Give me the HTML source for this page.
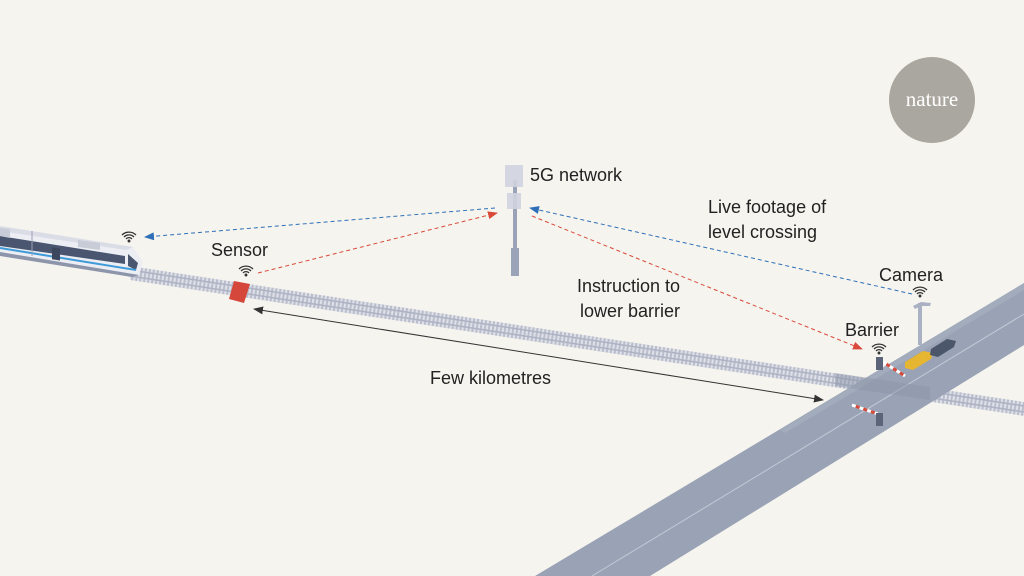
<!DOCTYPE html>
<html><head><meta charset="utf-8"><style>
html,body{margin:0;padding:0;background:#f5f4ee;}
svg{display:block}
text{font-family:"Liberation Sans",sans-serif;fill:#222;font-size:18px}
</style></head><body>
<svg width="1024" height="576" viewBox="0 0 1024 576">
<defs>
<pattern id="ties" width="4" height="12" patternUnits="userSpaceOnUse" patternTransform="rotate(8.7)">
<rect width="4" height="12" fill="#dfe1e8"/><rect width="2" height="12" fill="#b9bdcc"/>
</pattern>
<marker id="ab" markerWidth="10" markerHeight="8" refX="9" refY="4" orient="auto"><path d="M0,0 L10,4 L0,8 z" fill="#2f6fb8"/></marker>
<marker id="ar" markerWidth="10" markerHeight="8" refX="9" refY="4" orient="auto"><path d="M0,0 L10,4 L0,8 z" fill="#d94a3a"/></marker>
<marker id="ak" markerWidth="10" markerHeight="8" refX="9" refY="4" orient="auto"><path d="M0,0 L10,4 L0,8 z" fill="#333"/></marker>
<marker id="aks" markerWidth="10" markerHeight="8" refX="1" refY="4" orient="auto"><path d="M10,0 L0,4 L10,8 z" fill="#333"/></marker>
</defs>
<rect width="1024" height="576" fill="#f5f4ee"/>
<circle cx="932" cy="100" r="43" fill="#a9a79f"/>
<text x="932" y="106" text-anchor="middle" style="font-family:'Liberation Serif',serif;font-size:21px;fill:#fff">nature</text>
<!-- track -->
<polygon points="130,266 1024,402 1024,416 130,280" fill="url(#ties)"/>
<line x1="130" y1="270" x2="1024" y2="406" stroke="#aeb3c4" stroke-width="1.5"/>
<line x1="130" y1="276" x2="1024" y2="412" stroke="#aeb3c4" stroke-width="1.5"/>
<!-- road -->
<polygon points="535,576 1024,283 1024,345 650,576" fill="#9aa3b5"/>
<line x1="592" y1="576" x2="1024" y2="314" stroke="#c3c9d6" stroke-width="1"/>
<polygon points="780,430 1024,283 1024,290 785,433" fill="#aab2c2" opacity="0.6"/>
<polygon points="835,373 930,387 930,400 835,386" fill="#8c95a8" opacity="0.5"/>
<!-- crossing barriers -->
<line x1="852" y1="405" x2="878" y2="414" stroke="#fff" stroke-width="3" stroke-dasharray="4,4"/>
<line x1="852" y1="405" x2="878" y2="414" stroke="#d94a3a" stroke-width="3" stroke-dasharray="4,4" stroke-dashoffset="4"/>
<rect x="876" y="413" width="7" height="13" fill="#5b6478"/>
<line x1="883" y1="362" x2="905" y2="376" stroke="#fff" stroke-width="3" stroke-dasharray="4,4"/>
<line x1="883" y1="362" x2="905" y2="376" stroke="#d94a3a" stroke-width="3" stroke-dasharray="4,4" stroke-dashoffset="4"/>
<rect x="876" y="357" width="7" height="13" fill="#5b6478"/>
<!-- cars -->
<path d="M905,362 l18,-11 l10,2 l-2,6 l-18,11 l-8,-2z" fill="#e6b532"/>
<path d="M931,349 l16,-10 l9,2 l-2,6 l-16,10 l-8,-2z" fill="#4c566b"/>
<!-- camera pole -->
<rect x="918" y="303" width="4" height="42" fill="#aab1c2"/>
<path d="M913,306 l8,-4 l10,1 l-1,3 l-9,0 l-6,3z" fill="#aab1c2"/>
<!-- train -->
<polygon points="0,226 133,247 143,262 139,275 0,252" fill="#eceef4"/>
<polygon points="0,226 133,247 126,250 0,231" fill="#dadde6"/>
<polygon points="0,236 125,256 125,264 0,246" fill="#4a5670"/>
<polygon points="128,254 138,263 136,270 128,266" fill="#4a5670"/>
<line x1="0" y1="248" x2="136" y2="270" stroke="#3f9ad8" stroke-width="2"/>
<polygon points="0,252 139,275 132,277 0,256" fill="#8d95aa"/>
<polygon points="0,228 10,229 10,238 0,236" fill="#c8ccd6"/>
<polygon points="78,240 100,243 100,250 78,247" fill="#c8ccd6"/>
<line x1="32" y1="231" x2="32" y2="256" stroke="#9aa0b2"/>
<rect x="52" y="239" width="8" height="12" fill="#3c465c" transform="skewY(9)"/>
<!-- sensor -->
<polygon points="234,281 250,284 244,303 229,299" fill="#d4473a"/>
<!-- tower -->
<rect x="513" y="180" width="4" height="70" fill="#9ba3b8"/>
<rect x="511" y="248" width="8" height="28" fill="#9ba3b8"/>
<rect x="505" y="165" width="18" height="22" fill="#d0d4df" opacity="0.9"/>
<rect x="507" y="193" width="14" height="16" fill="#d0d4df" opacity="0.9"/>
<!-- wifi icons -->
<g fill="none" stroke="#333" stroke-width="1.3">
<g transform="translate(129,240)"><path d="M-5,-3 a7,7 0 0 1 10,0 M-3,-1 a4,4 0 0 1 6,0"/><circle cx="0" cy="1" r="0.8" fill="#333"/><path d="M-7,-5 a10,10 0 0 1 14,0"/></g>
<g transform="translate(246,274)"><path d="M-5,-3 a7,7 0 0 1 10,0 M-3,-1 a4,4 0 0 1 6,0"/><circle cx="0" cy="1" r="0.8" fill="#333"/><path d="M-7,-5 a10,10 0 0 1 14,0"/></g>
<g transform="translate(920,295)"><path d="M-5,-3 a7,7 0 0 1 10,0 M-3,-1 a4,4 0 0 1 6,0"/><circle cx="0" cy="1" r="0.8" fill="#333"/><path d="M-7,-5 a10,10 0 0 1 14,0"/></g>
<g transform="translate(879,352)"><path d="M-5,-3 a7,7 0 0 1 10,0 M-3,-1 a4,4 0 0 1 6,0"/><circle cx="0" cy="1" r="0.8" fill="#333"/><path d="M-7,-5 a10,10 0 0 1 14,0"/></g>
</g>
<!-- arrows -->
<line x1="495" y1="208" x2="145" y2="237" stroke="#2f6fb8" stroke-width="1" stroke-dasharray="4,3" marker-end="url(#ab)"/>
<line x1="258" y1="273" x2="497" y2="213" stroke="#d94a3a" stroke-width="1" stroke-dasharray="4,3" marker-end="url(#ar)"/>
<line x1="912" y1="294" x2="530" y2="208" stroke="#2f6fb8" stroke-width="1" stroke-dasharray="4,3" marker-end="url(#ab)"/>
<line x1="532" y1="216" x2="862" y2="349" stroke="#d94a3a" stroke-width="1" stroke-dasharray="4,3" marker-end="url(#ar)"/>
<line x1="254" y1="309" x2="823" y2="400" stroke="#333" stroke-width="1" marker-start="url(#aks)" marker-end="url(#ak)"/>
<!-- labels -->
<text x="530" y="181">5G network</text>
<text x="211" y="256">Sensor</text>
<text x="708" y="213">Live footage of</text>
<text x="708" y="238">level crossing</text>
<text x="879" y="281">Camera</text>
<text x="680" y="292" text-anchor="end">Instruction to</text>
<text x="680" y="317" text-anchor="end">lower barrier</text>
<text x="845" y="336">Barrier</text>
<text x="430" y="384">Few kilometres</text>
</svg>
</body></html>
